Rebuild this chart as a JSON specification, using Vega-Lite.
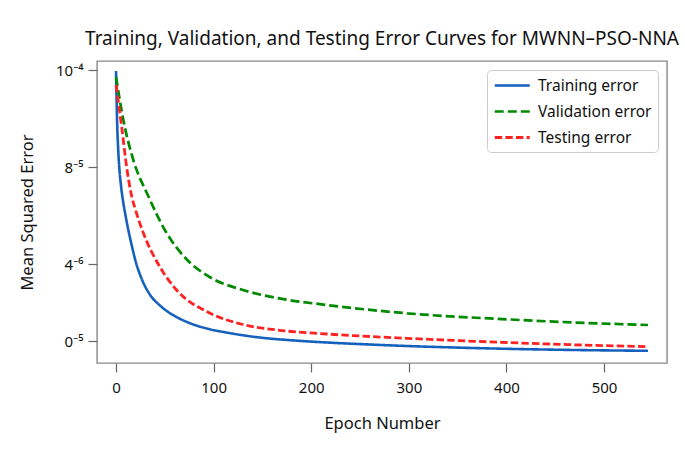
{
  "$schema": "https://vega.github.io/schema/vega-lite/v6.json",
  "width": 570,
  "height": 302,
  "autosize": {"type": "none"},
  "padding": {"left": 97, "top": 61, "right": 18, "bottom": 94},
  "title": {"text": "Training, Validation, and Testing Error Curves for MWNN\u2013PSO-NNA", "font": "Noto Sans", "fontSize": 19, "fontWeight": "normal", "color": "#111", "offset": 12},
  "config": {
    "view": {"stroke": "#888", "strokeWidth": 1.4},
    "font": "Noto Sans",
    "axis": {"labelFont": "Noto Sans", "titleFont": "Noto Sans", "labelFontSize": 15, "titleFontSize": 16.5, "titleFontWeight": "normal", "labelColor": "#111", "titleColor": "#111", "domain": false, "grid": false, "tickColor": "#666", "tickSize": 9, "tickWidth": 1.2}
  },
  "data": {"values": [
    {"epoch": 0, "mse": 292, "series": "Training error"},
    {"epoch": 1, "mse": 245, "series": "Training error"},
    {"epoch": 2, "mse": 218, "series": "Training error"},
    {"epoch": 3, "mse": 200, "series": "Training error"},
    {"epoch": 5, "mse": 178, "series": "Training error"},
    {"epoch": 7.5, "mse": 160, "series": "Training error"},
    {"epoch": 10, "mse": 146, "series": "Training error"},
    {"epoch": 12.6, "mse": 133, "series": "Training error"},
    {"epoch": 16, "mse": 118, "series": "Training error"},
    {"epoch": 20, "mse": 102, "series": "Training error"},
    {"epoch": 27, "mse": 82.5, "series": "Training error"},
    {"epoch": 35, "mse": 68, "series": "Training error"},
    {"epoch": 45, "mse": 57.5, "series": "Training error"},
    {"epoch": 55, "mse": 50, "series": "Training error"},
    {"epoch": 67, "mse": 43.5, "series": "Training error"},
    {"epoch": 79, "mse": 38.6, "series": "Training error"},
    {"epoch": 95, "mse": 34, "series": "Training error"},
    {"epoch": 113, "mse": 30.5, "series": "Training error"},
    {"epoch": 148, "mse": 25.4, "series": "Training error"},
    {"epoch": 180, "mse": 22.7, "series": "Training error"},
    {"epoch": 216, "mse": 20.5, "series": "Training error"},
    {"epoch": 260, "mse": 18.5, "series": "Training error"},
    {"epoch": 298, "mse": 17, "series": "Training error"},
    {"epoch": 350, "mse": 15.4, "series": "Training error"},
    {"epoch": 400, "mse": 14.2, "series": "Training error"},
    {"epoch": 470, "mse": 13, "series": "Training error"},
    {"epoch": 545, "mse": 12.2, "series": "Training error"},
    {"epoch": 0, "mse": 286, "series": "Validation error"},
    {"epoch": 7.5, "mse": 243, "series": "Validation error"},
    {"epoch": 17.7, "mse": 203, "series": "Validation error"},
    {"epoch": 33, "mse": 167, "series": "Validation error"},
    {"epoch": 50, "mse": 133, "series": "Validation error"},
    {"epoch": 72, "mse": 104, "series": "Validation error"},
    {"epoch": 96, "mse": 86, "series": "Validation error"},
    {"epoch": 130, "mse": 73, "series": "Validation error"},
    {"epoch": 165, "mse": 65, "series": "Validation error"},
    {"epoch": 216, "mse": 58, "series": "Validation error"},
    {"epoch": 298, "mse": 49.7, "series": "Validation error"},
    {"epoch": 400, "mse": 43.7, "series": "Validation error"},
    {"epoch": 470, "mse": 40.5, "series": "Validation error"},
    {"epoch": 545, "mse": 38, "series": "Validation error"},
    {"epoch": 0, "mse": 278, "series": "Testing error"},
    {"epoch": 5.8, "mse": 236, "series": "Testing error"},
    {"epoch": 11, "mse": 195, "series": "Testing error"},
    {"epoch": 16, "mse": 167, "series": "Testing error"},
    {"epoch": 20, "mse": 153, "series": "Testing error"},
    {"epoch": 28, "mse": 130, "series": "Testing error"},
    {"epoch": 45, "mse": 96, "series": "Testing error"},
    {"epoch": 62, "mse": 73, "series": "Testing error"},
    {"epoch": 96, "mse": 50, "series": "Testing error"},
    {"epoch": 130, "mse": 38.5, "series": "Testing error"},
    {"epoch": 165, "mse": 33, "series": "Testing error"},
    {"epoch": 216, "mse": 29, "series": "Testing error"},
    {"epoch": 298, "mse": 24.7, "series": "Testing error"},
    {"epoch": 400, "mse": 20.5, "series": "Testing error"},
    {"epoch": 470, "mse": 18.2, "series": "Testing error"},
    {"epoch": 545, "mse": 16.3, "series": "Testing error"}
  ]},
  "mark": {"type": "line", "interpolate": "monotone", "clip": true},
  "encoding": {
    "x": {"field": "epoch", "type": "quantitative", "scale": {"domain": [-19.5, 564.5], "nice": false, "zero": false},
      "axis": {"title": "Epoch Number", "values": [0, 100, 200, 300, 400, 500], "labelPadding": 8, "titlePadding": 20}},
    "y": {"field": "mse", "type": "quantitative", "scale": {"domain": [0, 302], "nice": false, "zero": false},
      "axis": {"title": "Mean Squared Error", "values": [22, 99, 196, 293], "labelExpr": "datum.value == 293 ? '10\u207b\u2074' : datum.value == 196 ? '8\u207b\u2075' : datum.value == 99 ? '4\u207b\u2076' : '0\u207b\u2075'", "labelPadding": 5, "titlePadding": 20}},
    "color": {"field": "series", "type": "nominal", "sort": ["Training error", "Validation error", "Testing error"],
      "scale": {"domain": ["Training error", "Validation error", "Testing error"], "range": ["#1560bd", "#008a00", "#ff2222"]},
      "legend": {"title": null, "orient": "top-right", "offset": 9, "symbolType": "M-1,0L3.52,0", "symbolSize": 240, "symbolStrokeWidth": 2.5, "labelFontSize": 15.5, "labelFont": "Noto Sans", "labelColor": "#111", "strokeColor": "#ccc", "fillColor": "white", "cornerRadius": 4, "padding": 6, "rowPadding": 8, "labelOffset": 26}},
    "strokeDash": {"field": "series", "type": "nominal", "sort": ["Training error", "Validation error", "Testing error"],
      "scale": {"domain": ["Training error", "Validation error", "Testing error"], "range": [[1, 0], [9, 4], [7.4, 3.2]]},
      "legend": {"title": null}},
    "strokeWidth": {"field": "series", "type": "nominal",
      "scale": {"domain": ["Training error", "Validation error", "Testing error"], "range": [2.6, 2.8, 2.2]},
      "legend": null}
  }
}
